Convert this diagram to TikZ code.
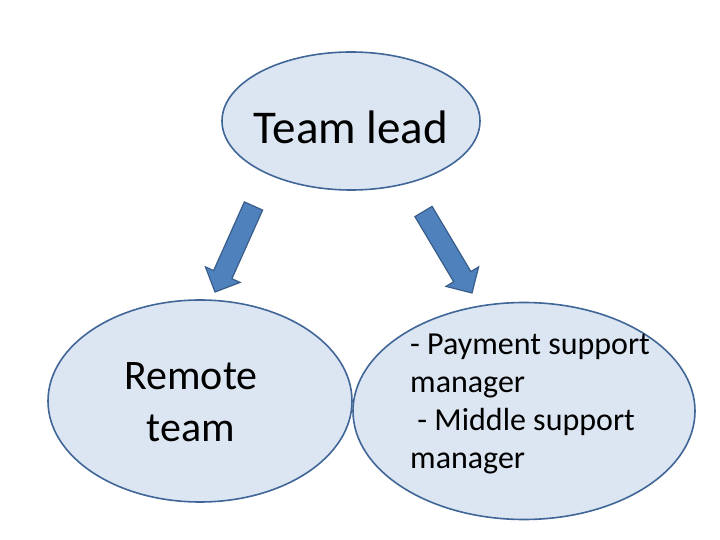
\documentclass[tikz,border=0pt]{standalone}
\usepackage{fontspec}
\setmainfont{Carlito}
\usetikzlibrary{shapes.geometric,calc}
\definecolor{efill}{HTML}{DCE6F2}
\definecolor{edraw}{HTML}{3F6697}
\definecolor{afill}{HTML}{4F81BD}
\definecolor{adraw}{HTML}{385D8A}
\tikzset{
  oval/.style={ellipse, draw=edraw, fill=efill, line width=1.6pt, inner sep=0pt},
  lbl/.style={inner sep=0pt, text=black},
  blockarrow/.style={fill=afill, draw=adraw, line width=1.2pt, line join=miter}
}
\begin{document}
\begin{tikzpicture}[x=1pt,y=-1pt]
\useasboundingbox (0,0) rectangle (720,540);
\node[oval, minimum width=258pt, minimum height=138pt] (lead) at (351,121) {};
\node[oval, minimum width=304pt, minimum height=202pt] (remote) at (200,401) {};
\node[oval, minimum width=342pt, minimum height=217pt] (managers) at (524,411) {};
\node[lbl, font=\fontsize{47}{56}\selectfont] (leadtext) at (351,127) {Team lead};
\node[lbl, font=\fontsize{42}{52}\selectfont, align=center, anchor=base] (remotetext) at (191,441) {Remote\\team};
\node[lbl, font=\fontsize{32}{38}\selectfont, align=left, anchor=base west] (mgrtext) at (410,468) {- Payment support\\manager\\\ - Middle support\\manager};
% left block arrow
\coordinate (lt) at (253.5,206);
\coordinate (lp) at (215,292);
\coordinate (lh) at ($(lp)!19pt!(lt)$);
\draw[blockarrow] ($(lt)!10pt!90:(lp)$) -- ($(lh)!10pt!90:(lp)$) -- ($(lh)!19pt!90:(lp)$) -- (lp) -- ($(lh)!19pt!-90:(lp)$) -- ($(lh)!10pt!-90:(lp)$) -- ($(lt)!10pt!-90:(lp)$) -- cycle;
% right block arrow
\coordinate (rt) at (423.5,211.5);
\coordinate (rp) at (472,293);
\coordinate (rh) at ($(rp)!19pt!(rt)$);
\draw[blockarrow] ($(rt)!10pt!90:(rp)$) -- ($(rh)!10pt!90:(rp)$) -- ($(rh)!19pt!90:(rp)$) -- (rp) -- ($(rh)!19pt!-90:(rp)$) -- ($(rh)!10pt!-90:(rp)$) -- ($(rt)!10pt!-90:(rp)$) -- cycle;
\end{tikzpicture}
\end{document}
